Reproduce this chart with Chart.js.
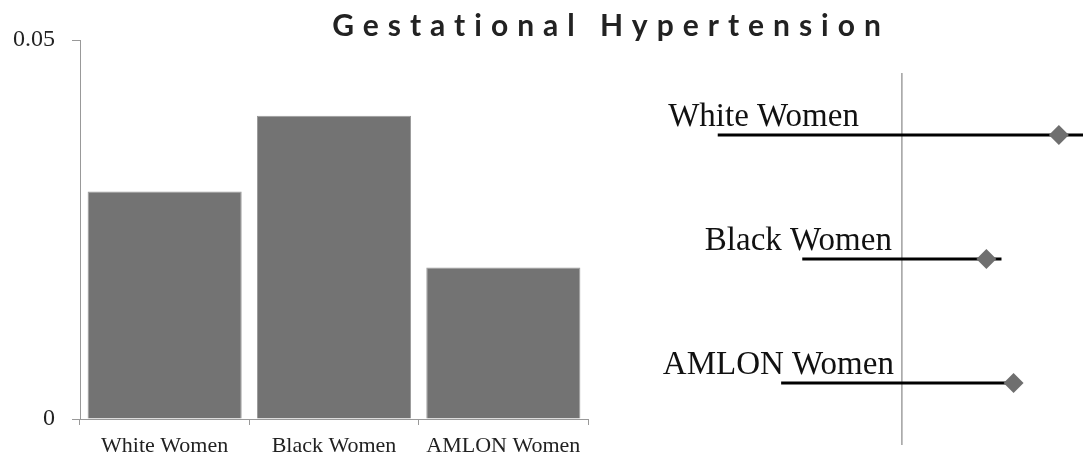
<!DOCTYPE html>
<html>
<head>
<meta charset="utf-8">
<script src="https://cdn.jsdelivr.net/npm/chart.js@4/dist/chart.umd.min.js"></script>
<style>
  html, body { margin: 0; padding: 0; background: #fff; }
  #wrap { position: relative; width: 1083px; height: 458px; overflow: hidden; }
  #title {
    position: absolute; left: 0; width: 1222px; top: 9px; text-align: center;
    font: bold 30px Lato, "Open Sans", sans-serif; line-height: 30px; letter-spacing: 9px; color: #222;
    white-space: nowrap;
  }
  #bar-canvas { position: absolute; left: 0; top: 0; }
  #forest-canvas { position: absolute; left: 600px; top: 0; }
</style>
</head>
<body>
<div id="wrap">
  <canvas id="bar-canvas" width="600" height="458"></canvas>
  <canvas id="forest-canvas" width="483" height="458"></canvas>
  <div id="title">Gestational Hypertension</div>
</div>
<script>
// bar chart values
const groups = ['White Women', 'Black Women', 'AMLON Women'];
const rates = [0.03, 0.04, 0.02];
const yTicks = [0, 0.05];

// forest plot values (estimate with interval, reference at 1)
const estimates = [1.52, 1.28, 1.37];
const lowerBounds = [0.39, 0.67, 0.60];
const upperBounds = [1.70, 1.33, 1.38];
const reference = 1;

const serif = '"Liberation Serif", "Times New Roman", serif';
const axisGray = '#999';

document.addEventListener('DOMContentLoaded', () => {
  new Chart(document.getElementById('bar-canvas'), {
    type: 'bar',
    data: {
      labels: groups,
      datasets: [{
        data: rates,
        backgroundColor: '#737373',
        borderColor: '#9a9a9a',
        borderWidth: 1,
        categoryPercentage: 1,
        barPercentage: 0.91
      }]
    },
    options: {
      responsive: false,
      animation: false,
      layout: { padding: { left: 0, right: 12, top: 40, bottom: 0 } },
      plugins: { legend: { display: false }, tooltip: { enabled: false } },
      scales: {
        y: {
          min: yTicks[0], max: yTicks[yTicks.length - 1],
          afterBuildTicks: (scale) => { scale.ticks = yTicks.map(v => ({ value: v })); },
          afterFit: (scale) => { scale.width = 80; },
          grid: { drawOnChartArea: false, tickLength: 8, color: axisGray },
          border: { color: axisGray, width: 1 },
          ticks: { padding: 17, color: '#222', font: { family: serif, size: 24 } }
        },
        x: {
          afterFit: (scale) => { scale.height = 39; },
          grid: { drawOnChartArea: false, tickLength: 6, color: axisGray, offset: true },
          border: { color: axisGray, width: 1 },
          ticks: { padding: 8, color: '#222', font: { family: serif, size: 22 } }
        }
      }
    }
  });

  // row labels drawn left of each interval, offsets in px from the reference line
  const labelRightOffset = [-43, -10, -8];
  const rowLabels = {
    id: 'rowLabels',
    afterDatasetsDraw(chart) {
      const { ctx, scales } = chart;
      ctx.save();
      ctx.font = '33px ' + serif;
      ctx.fillStyle = '#111';
      ctx.textAlign = 'right';
      ctx.textBaseline = 'alphabetic';
      groups.forEach((g, i) => {
        const x = scales.x.getPixelForValue(reference) + labelRightOffset[i];
        const y = scales.y.getPixelForValue(i + 1) - 9;
        ctx.fillText(g, x, y);
      });
      ctx.restore();
    }
  };

  const intervalSets = groups.map((g, i) => ({
    type: 'line',
    data: [{ x: lowerBounds[i], y: i + 1 }, { x: upperBounds[i], y: i + 1 }],
    borderColor: '#000',
    borderWidth: 3,
    pointRadius: 0,
    order: 2
  }));

  new Chart(document.getElementById('forest-canvas'), {
    type: 'scatter',
    data: {
      datasets: [
        {
          type: 'line',
          data: [{ x: reference, y: 0.5 }, { x: reference, y: groups.length + 0.5 }],
          borderColor: '#a0a0a0',
          borderWidth: 1.5,
          pointRadius: 0,
          order: 3
        },
        ...intervalSets,
        {
          data: estimates.map((v, i) => ({ x: v, y: i + 1 })),
          pointStyle: 'rectRot',
          pointRadius: 10,
          backgroundColor: '#6f6f6f',
          borderWidth: 0,
          order: 1
        }
      ]
    },
    options: {
      responsive: false,
      animation: false,
      layout: { autoPadding: false, padding: { left: 0, right: 0, top: 11, bottom: 13 } },
      plugins: { legend: { display: false }, tooltip: { enabled: false } },
      scales: {
        x: { type: 'linear', min: 0, max: 1.6, display: false },
        y: { type: 'linear', min: 0, max: 3.5, reverse: true, display: false }
      }
    },
    plugins: [rowLabels]
  });
});
</script>
</body>
</html>
